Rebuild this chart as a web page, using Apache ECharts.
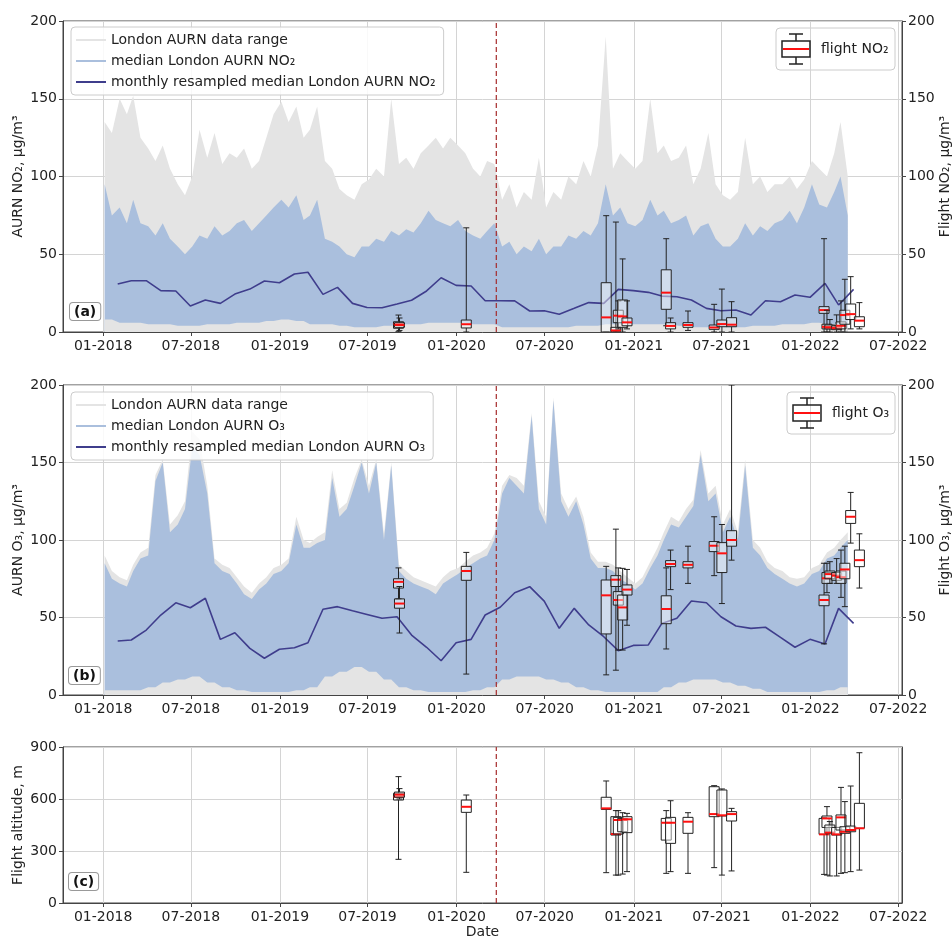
<!DOCTYPE html>
<html>
<head>
<meta charset="utf-8">
<script src="https://cdn.jsdelivr.net/npm/echarts@6/dist/echarts.min.js"></script>
<style>html,body{margin:0;background:#fff}#main{width:952px;height:938px}</style>
</head>
<body>
<div id="main"></div>
<script>
// first month of the AURN record and number of months (01-2018 .. 03-2022)
var startYear = 2018;
var monthCount = 51;

// half-monthly upper envelope of the London AURN NO2 range (grey)
var no2GrayHi = [
  135,128, 150,140, 152,125, 118,110, 120,105, 95,88, 100,130, 112,128, 108,115, 112,118, 105,110, 125,140,
  148,135, 145,125, 130,145, 110,105, 92,88, 85,95, 98,105, 100,150, 108,112, 105,115, 120,125, 118,125,
  120,115, 105,100, 110,108, 85,95, 80,90, 85,112, 80,90, 85,100, 95,110, 100,120, 190,105, 115,110,
  105,110, 150,115, 120,110, 112,120, 95,105, 128,95, 88,85, 90,125, 95,100, 90,95, 95,100, 92,98,
  110,105, 100,115, 135,100
];
// half-monthly upper envelope of the median NO2 (blue)
var no2BlueHi = [
  95,75, 80,70, 85,70, 68,62, 70,60, 55,50, 55,62, 60,68, 62,65, 70,72, 65,70, 75,80,
  85,80, 88,72, 75,85, 60,58, 55,50, 48,55, 55,60, 58,65, 62,66, 64,70, 78,72, 70,68,
  72,65, 62,60, 65,70, 55,58, 50,55, 52,60, 50,55, 55,62, 60,65, 62,70, 95,75, 80,70,
  68,72, 85,75, 78,70, 72,75, 62,68, 70,60, 55,55, 60,70, 62,68, 65,70, 72,78, 70,80,
  95,82, 80,90, 100,75
];
// monthly lower envelope of the median NO2 (blue)
var no2BlueLo = [
  8,6,6,5,5,4,4,5,5,6,6,7,
  8,7,5,5,4,3,3,4,5,5,6,6,
  6,5,5,3,3,3,3,3,4,4,5,5,
  5,5,5,4,3,3,3,3,4,4,5,5,
  6,5,5
];
// monthly resampled median NO2
var no2Monthly = [
  30.9,33,33,26.6,26.4,16.7,20.6,18.4,24.4,27.6,32.8,31.7,
  37.3,38.4,24.2,28.7,18.4,15.8,15.6,18,20.4,26.4,34.9,30,
  29.6,20.1,20.1,20,13.5,13.7,11.4,15.2,18.9,18.4,27.4,26.6,
  25.5,23.1,22.7,20.6,15.2,13.7,14.1,10.9,20.1,19.5,23.8,22.3,
  31.3,17.4,27.4
];

var o3GrayHi = [
  90,80, 76,74, 84,92, 95,142, 152,110, 116,125, 170,165, 135,88, 84,82, 76,70, 66,72, 76,82,
  84,88, 115,100, 98,102, 105,145, 120,124, 140,152, 135,152, 104,150, 84,80, 76,74, 72,70, 76,80,
  82,86, 90,92, 95,104, 135,142, 140,135, 182,125, 115,192, 130,120, 128,115, 92,86, 86,84, 80,76,
  72,76, 86,95, 105,115, 112,120, 126,158, 130,135, 110,120, 105,152, 100,95, 86,82, 80,76, 75,76,
  82,84, 92,95, 100,105
];
var o3BlueHi = [
  85,75, 72,70, 80,88, 90,138, 150,105, 110,120, 160,155, 130,85, 80,78, 72,65, 62,68, 72,78,
  80,85, 110,95, 95,98, 100,140, 115,120, 135,150, 130,150, 100,148, 80,75, 72,70, 68,65, 72,75,
  78,82, 85,88, 90,100, 130,140, 135,130, 180,120, 110,190, 125,115, 125,110, 88,82, 82,80, 75,72,
  68,72, 82,90, 100,110, 108,115, 122,155, 125,130, 105,115, 100,148, 95,90, 82,78, 75,72, 70,72,
  78,80, 88,90, 95,100
];
var o3BlueLo = [
  3,3,3,5,8,10,12,8,5,3,2,2,
  2,3,5,12,15,18,15,10,5,3,2,2,
  2,3,5,10,12,12,10,8,5,3,2,2,
  2,2,5,8,10,10,8,6,4,2,2,2,
  2,3,5
];
var o3Monthly = [
  34.8,35.5,41.9,51.6,59.5,56.3,62.4,35.9,40.2,30.1,23.7,29.5,
  30.5,33.7,55.3,57,54.4,52,49.5,50.5,38.7,30.8,22.1,33.7,
  35.9,51.6,56.6,66,69.9,60.6,43,55.9,45.2,37.6,28.6,32,
  32.3,46.2,49.5,60.6,59.5,50.5,44.5,43,43.7,37.2,30.8,35.9,
  32.9,55.9,46.2
];

// flights: date and box statistics [min, Q1, median, Q3, max]
var flightDates = [
  '2019-09-03','2019-09-05','2020-01-21','2020-11-05','2020-11-25','2020-11-30','2020-12-09','2020-12-18',
  '2021-03-09','2021-03-18','2021-04-23','2021-06-16','2021-07-02','2021-07-22',
  '2022-01-29','2022-02-04','2022-02-10','2022-02-24','2022-03-05','2022-03-13','2022-03-25','2022-04-12'
];
var flightNO2 = [
  [0.2,2.4,5.1,6.6,10.9],[1,3,4.5,6,9],[0,2.6,5,7.7,67],[0,0,9.4,31.7,74.8],[0,0.5,1,3,70.7],
  [2,6,10.5,14,20],[0,3,10,20.6,47],[2,4,6.2,9,20],
  [4,14.6,25.3,40,60],[0,2,3.9,6,9],[1,3,4.5,6,13.5],[0,1.7,2.9,4.5,17.8],[0,3.4,5.1,7.7,27.6],[0,3.4,4.7,9.2,19.5],
  [0,12,14.1,16.3,60],[0,2,3.3,5,14],[0,2,3,4.5,8],[0,1.5,2.5,4,11],[0,2,4,6.5,20],[0,5,10.9,14,33.9],
  [2,8,11.5,18,35.6],[2,3.4,7.3,9.8,18.9]
];
var flightO3 = [
  [62,69,73,75,82],[40,56,59,62,70],[13.5,74,80,83,92],[13,39.4,64.3,74.2,83],[16,70,74.4,77,107],
  [29,58,61.3,66.7,82],[29,48.4,56.5,64.5,81.7],[45,64.5,68,71,81],
  [29.7,46,55.5,64,82],[68,82.8,84.5,86.7,93.5],[72,82,84,86,96],[77,92.5,96.3,99,115],[59,79,91.4,98.3,110],[87,96,100,106,200],
  [33,57.6,61.3,64.5,85],[66,72,75.3,79,85],[72,75,78,80,86],[72,74,77,79,88],[63,72,76,80,93.5],[57,75,81,85,96],
  [98,110.7,115,119,130.7],[69,82.8,87,93.5,104]
];
var flightAlt = [
  [252,594,613,633,729],[600,610,625,640,660],[177,523,555,594,623],[175,540,546,610,704],[161,392,398,498,533],
  [161,398,479,494,533],[167,411,479,488,521],[181,406,483,498,517],
  [171,363,463,488,533],[181,344,463,494,590],[171,402,469,494,521],[204,498,513,671,677],[161,502,506,652,658],[185,473,513,527,546],
  [165,396,396,488,494],[161,436,488,502,556],[156,402,406,450,470],[156,392,396,436,436],[171,421,494,508,667],[175,402,411,440,585],
  [181,411,421,444,675],[190,431,431,575,867]
];

var tickDates = ['2018-01-01','2018-07-01','2019-01-01','2019-07-01','2020-01-01','2020-07-01','2021-01-01','2021-07-01','2022-01-01','2022-07-01'];
var lockdownDate = '2020-03-23';

// ---- build series data ----
var semi = [], monthEnds = [];
for (var i = 0; i < monthCount; i++) {
  var y = startYear + Math.floor(i / 12), m = i % 12;
  semi.push(Date.UTC(y, m, 4), Date.UTC(y, m, 19));
  monthEnds.push(Date.UTC(y, m + 1, 0));
}
function pairs(xs, ys) { return xs.map(function (t, i) { return [t, ys[i]]; }); }
function loData(lo) { return semi.map(function (t, i) { return [t, lo[i >> 1]]; }); }
function boxData(stats) { return flightDates.map(function (d, i) { return [Date.parse(d)].concat(stats[i]); }); }

var ticks = tickDates.map(function (d) { return Date.parse(d); });
var lockdown = Date.parse(lockdownDate);
var xMin = Date.UTC(2017, 9, 10), xMax = Date.UTC(2022, 6, 9);

var GRAY = '#e4e4e4', BLUE = '#aabfdd', NAVY = '#3f3d8c', AXIS = '#444', GRID = '#d4d4d4';
var FONT = 'DejaVu Sans';

function fmt(v) {
  var d = new Date(v), mo = d.getUTCMonth() + 1;
  return (mo < 10 ? '0' : '') + mo + '-' + d.getUTCFullYear();
}

function boxRender(params, api) {
  var t = api.value(0);
  var p = [1, 2, 3, 4, 5].map(function (k) { return api.coord([t, api.value(k)]); });
  var x = p[0][0], hw = 5, cw = 3;
  var ls = { stroke: '#222', lineWidth: 1 };
  return {
    type: 'group',
    children: [
      { type: 'line', shape: { x1: x, y1: p[0][1], x2: x, y2: p[1][1] }, style: ls },
      { type: 'line', shape: { x1: x, y1: p[3][1], x2: x, y2: p[4][1] }, style: ls },
      { type: 'line', shape: { x1: x - cw, y1: p[0][1], x2: x + cw, y2: p[0][1] }, style: ls },
      { type: 'line', shape: { x1: x - cw, y1: p[4][1], x2: x + cw, y2: p[4][1] }, style: ls },
      { type: 'rect', shape: { x: x - hw, y: p[3][1], width: 2 * hw, height: p[1][1] - p[3][1] },
        style: { fill: 'rgba(255,255,255,0.45)', stroke: '#222', lineWidth: 1 } },
      { type: 'line', shape: { x1: x - hw, y1: p[2][1], x2: x + hw, y2: p[2][1] }, style: { stroke: '#ff1010', lineWidth: 2 } }
    ]
  };
}

function xAxisFor(gi, extra) {
  return Object.assign({
    type: 'value', gridIndex: gi, min: xMin, max: xMax,
    axisLine: { show: true, lineStyle: { color: AXIS } },
    axisTick: { show: true, length: 4, customValues: ticks, lineStyle: { color: AXIS } },
    axisLabel: { customValues: ticks, formatter: fmt, fontSize: 14, color: '#222', margin: 7, hideOverlap: false },
    splitLine: { show: true, lineStyle: { color: GRID, width: 1 } }
  }, extra || {});
}
function yAxisFor(gi, name, max, interval, right, showLabels) {
  return {
    type: 'value', gridIndex: gi, min: 0, max: max, interval: interval,
    position: right ? 'right' : 'left',
    name: name, nameLocation: 'middle', nameRotate: 90, nameGap: right ? 36 : 38, nameMoveOverlap: false,
    nameTextStyle: { fontSize: 14, color: '#222' },
    axisLine: { show: true, lineStyle: { color: AXIS } },
    axisTick: { show: showLabels, length: 4, lineStyle: { color: AXIS } },
    axisLabel: { show: showLabels, fontSize: 14, color: '#222', margin: 6 },
    splitLine: { show: !right, lineStyle: { color: GRID, width: 1 } }
  };
}

function area(name, gi, data, color, z) {
  return { name: name, type: 'line', xAxisIndex: gi, yAxisIndex: gi * 2, data: data, color: color,
    showSymbol: false, symbol: 'none', lineStyle: { width: 0 }, areaStyle: { color: color, opacity: 1 }, z: z, silent: true };
}
// dashed vertical line at the lockdown date, drawn as a two-point line series
function lockdownLine(gi, yi, top) {
  return { name: 'lockdown' + gi, type: 'line', xAxisIndex: gi, yAxisIndex: yi, data: [[lockdown, 0], [lockdown, top]],
    showSymbol: false, symbol: 'none', silent: true, z: 4,
    lineStyle: { color: '#a52a2a', type: [5, 3], width: 1.2 } };
}
function boxSeries(name, gi, yi, stats) {
  return { name: name, type: 'custom', xAxisIndex: gi, yAxisIndex: yi, data: boxData(stats), renderItem: boxRender,
    clip: true, encode: { x: 0, y: [1, 2, 3, 4, 5] }, z: 5 };
}

function panelSeries(gi, gas, grayHi, blueHi, blueLo, monthly, box) {
  return [
    area('London AURN data range', gi, pairs(semi, grayHi), GRAY, 1),
    area('median London AURN ' + gas, gi, pairs(semi, blueHi), BLUE, 2),
    area('low' + gi, gi, loData(blueLo), GRAY, 2),
    { name: 'monthly resampled median London AURN ' + gas, type: 'line', xAxisIndex: gi, yAxisIndex: gi * 2, data: pairs(monthEnds, monthly),
      color: NAVY, showSymbol: false, symbol: 'none', lineStyle: { width: 1.6, color: NAVY }, z: 3 },
    lockdownLine(gi, gi * 2, 200),
    boxSeries('flight ' + gas, gi, gi * 2 + 1, box)
  ];
}

function legendFor(top, gas) {
  return {
    orient: 'vertical', left: 71, top: top, padding: [6, 8, 6, 5], itemGap: 7,
    itemWidth: 30, itemHeight: 2, icon: 'rect',
    backgroundColor: 'rgba(255,255,255,0.85)', borderColor: '#ccc', borderWidth: 1, borderRadius: 4,
    textStyle: { fontSize: 14, color: '#222' },
    data: ['London AURN data range', 'median London AURN ' + gas, 'monthly resampled median London AURN ' + gas]
  };
}

function boxLegend(x, y, w, h, label) {
  return {
    type: 'group', x: x, y: y, z: 100,
    children: [
      { type: 'rect', z2: 0, shape: { x: 0, y: 0, width: w, height: h, r: 4 }, style: { fill: 'rgba(255,255,255,0.85)', stroke: '#ccc', lineWidth: 1 } },
      { type: 'line', z2: 1, shape: { x1: 20, y1: 6, x2: 20, y2: 13 }, style: { stroke: '#222', lineWidth: 1.5 } },
      { type: 'line', z2: 1, shape: { x1: 20, y1: 29, x2: 20, y2: 36 }, style: { stroke: '#222', lineWidth: 1.5 } },
      { type: 'line', z2: 1, shape: { x1: 13, y1: 6, x2: 27, y2: 6 }, style: { stroke: '#222', lineWidth: 1.5 } },
      { type: 'line', z2: 1, shape: { x1: 13, y1: 36, x2: 27, y2: 36 }, style: { stroke: '#222', lineWidth: 1.5 } },
      { type: 'rect', z2: 1, shape: { x: 6, y: 13, width: 28, height: 16 }, style: { fill: 'none', stroke: '#222', lineWidth: 1.5 } },
      { type: 'line', z2: 2, shape: { x1: 7, y1: 21, x2: 33, y2: 21 }, style: { stroke: '#ff1010', lineWidth: 2 } },
      { type: 'text', z2: 2, x: 45, y: 21, style: { text: label, fontSize: 14, fontFamily: FONT, fill: '#222', verticalAlign: 'middle' } }
    ]
  };
}
function panelTag(x, y, txt) {
  return { type: 'text', x: x, y: y, z: 100,
    style: { text: txt, fontSize: 14, fontWeight: 'bold', fontFamily: FONT, fill: '#111',
      backgroundColor: '#fff', borderColor: '#999', borderWidth: 1, borderRadius: 3, padding: [2, 4, 1, 4] } };
}

function gridAt(top, height) {
  return { left: 63, top: top, width: 839, height: height, show: true, borderColor: AXIS, borderWidth: 1,
    containLabel: false, outerBoundsMode: 'none' };
}

var chart = echarts.init(document.getElementById('main'), null, { renderer: 'canvas' });
chart.setOption({
  animation: false,
  backgroundColor: '#fff',
  textStyle: { fontFamily: FONT },
  grid: [gridAt(21, 311), gridAt(385, 310), gridAt(747, 156)],
  xAxis: [
    xAxisFor(0), xAxisFor(1),
    xAxisFor(2, { name: 'Date', nameLocation: 'middle', nameGap: 21, nameTextStyle: { fontSize: 14, color: '#222' } })
  ],
  yAxis: [
    yAxisFor(0, 'AURN NO\u2082, \u03bcg/m\u00b3', 200, 50, false, true),
    yAxisFor(0, 'Flight NO\u2082, \u03bcg/m\u00b3', 200, 50, true, true),
    yAxisFor(1, 'AURN O\u2083, \u03bcg/m\u00b3', 200, 50, false, true),
    yAxisFor(1, 'Flight O\u2083, \u03bcg/m\u00b3', 200, 50, true, true),
    yAxisFor(2, 'Flight altitude, m', 900, 300, false, true),
    yAxisFor(2, '', 900, 300, true, false)
  ],
  legend: [legendFor(27, 'NO\u2082'), legendFor(392, 'O\u2083')],
  graphic: [
    boxLegend(776, 28, 119, 42, 'flight NO\u2082'),
    boxLegend(787, 392, 108, 42, 'flight O\u2083'),
    panelTag(70, 303, '(a)'),
    panelTag(69, 667, '(b)'),
    panelTag(69, 873, '(c)')
  ],
  series: [].concat(
    panelSeries(0, 'NO\u2082', no2GrayHi, no2BlueHi, no2BlueLo, no2Monthly, flightNO2),
    panelSeries(1, 'O\u2083', o3GrayHi, o3BlueHi, o3BlueLo, o3Monthly, flightO3),
    [lockdownLine(2, 4, 900), boxSeries('flight altitude', 2, 4, flightAlt)]
  )
});
</script>
</body>
</html>
